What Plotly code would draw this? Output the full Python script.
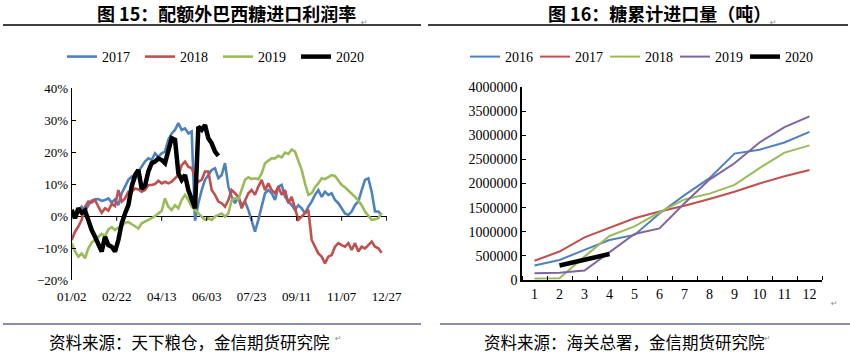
import plotly.graph_objects as go

W, H = 850, 356

# ---------------- Left chart: import profit margin (%) ----------------
x_tick_labels = ["01/02", "02/22", "04/13", "06/03", "07/23", "09/11", "11/07", "12/27"]
samples_per_label = 13.5

profit_2017 = [1.4, -0.2, 1.4, 2.9, 1.4, 3.4, 4.8, 5.2, 5.3, 4.7,
               5.0, 5.5, 4.2, 5.2, 3.4, 7.1, 9.2, 11.3, 12.3, 11.3,
               13.9, 15.4, 17.0, 18.0, 17.5, 19.6, 18.5, 19.6, 20.1, 23.8,
               25.8, 26.9, 29.0, 26.9, 27.4, 25.8, 26.4, -1.5, 4.0, 8.1,
               11.3, 12.8, 14.4, 14.9, 11.8, 12.8, 16.5, 9.2, 6.0, 4.0,
               6.0, 3.4, 4.5, 1.9, -1.2, -4.9, -1.2, 2.9, 7.1, 8.1,
               7.1, 5.0, 9.2, 9.7, 6.0, 4.5, 3.4, 1.9, 3.4, 2.4,
               0.8, 2.9, 4.5, 6.6, 8.1, 6.0, 7.6, 6.6, 7.1, 5.0,
               4.0, 2.4, 0.8, 0.3, 1.4, 3.4, 4.5, 8.1, 11.3, 11.8,
               7.6, 1.4, 1.4, 0.3]

profit_2018 = [-7.5, -4.9, -3.3, -1.2, 2.9, 4.5, 4.2, 5.0, 2.9, 1.0,
               2.4, 1.7, 3.8, 3.1, 8.1, 4.5, 5.5, 7.6, 7.6, 8.6,
               8.3, 7.6, 8.1, 9.7, 9.7, 10.0, 11.0, 10.2, 10.7, 10.2,
               10.7, 11.8, 12.8, 15.9, 17.0, 15.4, 14.9, 12.3, 10.7, 11.3,
               13.9, 13.9, 8.1, 6.6, 4.5, 4.0, 2.9, 5.0, 8.1, 7.1,
               6.0, 2.4, 5.0, 7.1, 8.1, 6.6, 9.2, 11.3, 8.1, 10.2,
               8.1, 7.1, 9.2, 6.6, 8.1, 4.0, 6.0, 2.4, -1.2, -0.2,
               0.8, 1.9, -7.5, -9.6, -11.7, -12.7, -14.8, -12.7, -12.2, -9.6,
               -8.5, -9.1, -9.6, -8.5, -10.6, -8.5, -11.1, -9.6, -10.1, -9.1,
               -8.0, -9.6, -10.1, -11.5]

profit_2019 = [-8.5, -11.1, -12.7, -11.7, -13.2, -10.1, -8.3, -7.3, -6.3, -5.6,
               -6.3, -4.2, -3.5, -4.4, -3.6, -3.1, -2.1, -1.9, -2.5, -3.1,
               -3.9, -2.3, -1.8, -1.2, -0.7, 0.0, 0.8, 1.6, 5.5, 2.9,
               1.9, 3.4, 2.4, 5.0, 6.6, 5.0, 2.9, 1.9, 0.8, -0.2,
               -1.2, -0.7, -1.2, -0.2, 0.3, 0.8, -0.2, 0.8, 5.0, 5.5,
               5.2, 8.1, 11.3, 12.1, 11.5, 11.8, 11.5, 13.3, 16.5, 17.3,
               18.0, 18.0, 18.8, 18.3, 19.8, 19.4, 20.8, 20.1, 17.5, 14.4,
               10.2, 6.6, 7.1, 9.0, 10.2, 11.8, 11.5, 12.1, 12.8, 12.5,
               11.0, 9.7, 9.0, 8.1, 6.9, 6.0, 4.8, 3.4, 1.4, 0.0,
               -1.2, -1.0, -0.7, 1.0]

profit_2020 = [1.9, -0.7, 2.4, 1.0, 1.7, -1.8, -4.4, -6.5, -8.5, -11.1,
               -6.5, -9.1, -9.6, -11.1, -7.5, -2.3, 0.8, 3.4, 9.2, 12.8,
               14.4, 8.5, 9.5, 13.9, 16.5, 17.0, 18.0, 17.5, 16.5, 20.1,
               24.3, 23.8, 13.3, 11.3, 12.8, 8.1, 5.0, 2.4, 27.9, 26.9,
               28.4, 24.3, 22.7, 20.1, 18.8]

# ---------------- Right chart: cumulative sugar imports (tonnes) ----------------
months = [1, 2, 3, 4, 5, 6, 7, 8, 9, 10, 11, 12]
imp_2016 = [300000, 415000, 625000, 830000, 935000, 1380000, 1760000, 2110000, 2620000, 2700000, 2850000, 3070000]
imp_2017 = [400000, 590000, 885000, 1090000, 1280000, 1420000, 1540000, 1680000, 1830000, 2000000, 2150000, 2280000]
imp_2018 = [30000, 35000, 485000, 913000, 1110000, 1400000, 1670000, 1790000, 1970000, 2320000, 2640000, 2790000]
imp_2019 = [140000, 150000, 195000, 570000, 955000, 1070000, 1590000, 2080000, 2420000, 2850000, 3170000, 3390000]
imp_2020 = [None, 300000, 415000, 540000]

BLUE, RED, GREEN, PURPLE, BLACK = "#4F81BD", "#C0504D", "#9BBB59", "#8064A2", "#000000"
NUM_FONT = "Liberation Serif"
CJK_FONT = "Noto Sans CJK SC"


def px_x(p):
    return p / W


def px_y(p):
    return 1 - p / H


fig = go.Figure()

left_series = [("2017", profit_2017, BLUE, 2.6), ("2018", profit_2018, RED, 2.6),
               ("2019", profit_2019, GREEN, 2.6), ("2020", profit_2020, BLACK, 4.5)]
for name, vals, col, w in left_series:
    fig.add_trace(go.Scatter(x=list(range(len(vals))), y=vals, mode="lines", name=name,
                             line=dict(color=col, width=w), xaxis="x", yaxis="y",
                             legend="legend"))

right_series = [("2016", imp_2016, BLUE, 2), ("2017", imp_2017, RED, 2),
                ("2018", imp_2018, GREEN, 2), ("2019", imp_2019, PURPLE, 2),
                ("2020", imp_2020, BLACK, 4.5)]
for name, vals, col, w in right_series:
    fig.add_trace(go.Scatter(x=months[:len(vals)], y=vals, mode="lines", name=name,
                             line=dict(color=col, width=w), xaxis="x2", yaxis="y2",
                             legend="legend2", connectgaps=False))

tickvals_left = [i * samples_per_label for i in range(len(x_tick_labels))]

fig.update_layout(
    width=W, height=H,
    margin=dict(l=0, r=0, t=0, b=0, pad=0, autoexpand=False),
    paper_bgcolor="white", plot_bgcolor="white",
    xaxis=dict(domain=[px_x(71.7), px_x(387)], range=[0, 94.6], automargin=False,
               tickvals=tickvals_left, ticktext=x_tick_labels,
               showline=False, showgrid=False, zeroline=False,
               ticks="outside", ticklen=4, tickcolor="rgba(0,0,0,0)",
               tickfont=dict(family=NUM_FONT, size=13, color="black")),
    yaxis=dict(domain=[px_y(280), px_y(88)], range=[-20, 40], dtick=10, automargin=False,
               ticksuffix="%", showline=True, linecolor="black", linewidth=1,
               showgrid=False, zeroline=True, zerolinecolor="black", zerolinewidth=1,
               ticks="inside", ticklen=4, tickcolor="black",
               tickfont=dict(family=NUM_FONT, size=13, color="black")),
    xaxis2=dict(domain=[px_x(522), px_x(822)], range=[0.5, 12.5], anchor="y2",
                automargin=False,
                tickvals=months, ticks="", showgrid=False, zeroline=False,
                showline=True, linecolor="black", linewidth=1.5,
                minor=dict(tick0=0.5, dtick=1, ticks="inside", ticklen=4,
                           tickcolor="black", showgrid=False),
                tickfont=dict(family=NUM_FONT, size=14, color="black")),
    yaxis2=dict(domain=[px_y(280), px_y(87)], range=[0, 4000000], dtick=500000,
                anchor="x2", tickformat="d", showline=True, linecolor="black",
                automargin=False,
                linewidth=1.5, showgrid=False, zeroline=False,
                ticks="inside", ticklen=4, tickcolor="black",
                tickfont=dict(family=NUM_FONT, size=14, color="black")),
    legend=dict(orientation="h", x=px_x(62), y=px_y(41), xanchor="left", yanchor="top",
                font=dict(family=NUM_FONT, size=14, color="black"),
                bgcolor="rgba(0,0,0,0)", entrywidth=33, entrywidthmode="pixels",
                traceorder="normal"),
    legend2=dict(orientation="h", x=px_x(465), y=px_y(41), xanchor="left", yanchor="top",
                 font=dict(family=NUM_FONT, size=14, color="black"),
                 bgcolor="rgba(0,0,0,0)", entrywidth=25, entrywidthmode="pixels",
                 traceorder="normal"),
    showlegend=True,
)

# tick marks on the zero line of the left chart
for tv in tickvals_left:
    fig.add_shape(type="line", xref="x", yref="y", x0=tv, x1=tv, y0=0, y1=-1.5,
                  line=dict(color="black", width=1))

# separator lines
for x0, x1 in [(3, 421), (428, 848)]:
    fig.add_shape(type="line", xref="paper", yref="paper", x0=px_x(x0), x1=px_x(x1),
                  y0=px_y(25), y1=px_y(25), line=dict(color="black", width=1.5))
for x0, x1 in [(3, 421), (440, 850)]:
    fig.add_shape(type="line", xref="paper", yref="paper", x0=px_x(x0), x1=px_x(x1),
                  y0=px_y(324), y1=px_y(324), line=dict(color="#1a1a5a", width=1.2))

texts = [
    ("<b>图 15：配额外巴西糖进口利润率</b>", 227, 13, "center", 18),
    ("<b>图 16：糖累计进口量（吨）</b>", 659, 13, "center", 18),
    ("资料来源：天下粮仓，金信期货研究院", 47, 342, "left", 16.5),
    ("资料来源：海关总署，金信期货研究院", 482, 342, "left", 16.5),
]
for t, x, y, anc, sz in texts:
    fig.add_annotation(text=t, x=px_x(x), y=px_y(y), xref="paper", yref="paper",
                       xanchor=anc, yanchor="middle", showarrow=False,
                       font=dict(family=CJK_FONT, size=sz, color="black"))

for x, y in [(364, 16), (779, 16), (338, 345), (773, 345), (840, 310)]:
    fig.add_annotation(text="↵", x=px_x(x), y=px_y(y), xref="paper", yref="paper",
                       showarrow=False, font=dict(family="DejaVu Sans", size=8, color="#888888"))

fig.write_html("out.html", config={"displayModeBar": False},
               post_script="document.body.style.margin='0';")
